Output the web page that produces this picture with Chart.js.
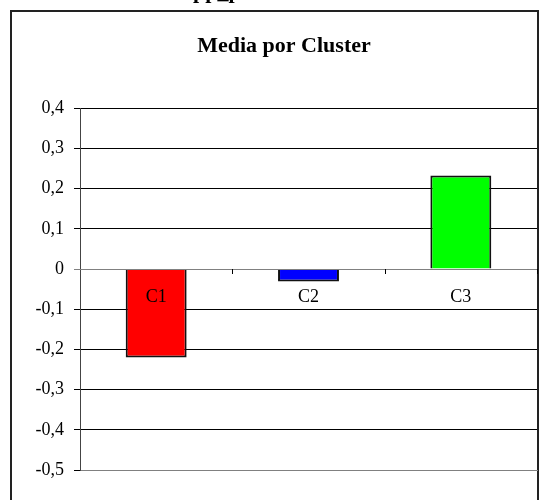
<!DOCTYPE html>
<html>
<head>
<meta charset="utf-8">
<script src="https://cdn.jsdelivr.net/npm/chart.js@4/dist/chart.umd.min.js"></script>
<style>
  html, body { margin: 0; padding: 0; background: #fff; }
  #wrap { width: 543px; height: 500px; position: relative; }
</style>
</head>
<body>
<div id="wrap"><canvas id="c" width="543" height="500"></canvas></div>
<script>
const categories = ['C1', 'C2', 'C3'];
const values = [-0.22, -0.031, 0.233];
const barColors = ['#ff0000', '#0000ff', '#00ff00'];
const chartTitle = 'Media por Cluster';
const cutTitle = 'pp_p';
const yMin = -0.5, yMax = 0.4, yStep = 0.1;

const serif = '"Liberation Serif", "Times New Roman", serif';

const decor = {
  id: 'decor',
  beforeDraw(chart) {
    const ctx = chart.ctx;
    ctx.save();
    ctx.fillStyle = '#fff';
    ctx.fillRect(0, 0, chart.width, chart.height);
    // outer frame
    ctx.strokeStyle = '#222';
    ctx.lineWidth = 2;
    ctx.strokeRect(11, 11, 527, 600);
    // cut-off heading at the very top
    ctx.fillStyle = '#000';
    ctx.font = 'bold 22px ' + serif;
    ctx.textAlign = 'left';
    ctx.textBaseline = 'alphabetic';
    ctx.fillText(cutTitle, 193, -2);
    ctx.restore();
  },
  afterDatasetsDraw(chart) {
    const ctx = chart.ctx;
    const xs = chart.scales.x, ys = chart.scales.y;
    const y0 = ys.getPixelForValue(0);
    const step = xs.getPixelForValue(1) - xs.getPixelForValue(0);
    ctx.save();
    // zero line
    ctx.strokeStyle = '#808080';
    ctx.lineWidth = 1;
    ctx.beginPath();
    ctx.moveTo(chart.chartArea.left, Math.round(y0) + 0.5);
    ctx.lineTo(chart.chartArea.right, Math.round(y0) + 0.5);
    ctx.stroke();
    // category separator ticks on the zero line
    ctx.strokeStyle = '#000';
    for (let i = 0; i < categories.length; i++) {
      const xb = Math.round(xs.getPixelForValue(i) + step / 2) + 0.5;
      ctx.beginPath();
      ctx.moveTo(xb, Math.round(y0));
      ctx.lineTo(xb, Math.round(y0) + 5);
      ctx.stroke();
    }
    // category labels
    ctx.fillStyle = '#000';
    ctx.font = '18px ' + serif;
    ctx.textAlign = 'center';
    ctx.textBaseline = 'middle';
    categories.forEach((c, i) => {
      ctx.fillText(c, xs.getPixelForValue(i), y0 + 28);
    });
    ctx.restore();
  }
};

new Chart(document.getElementById('c'), {
  type: 'bar',
  data: {
    labels: categories,
    datasets: [{
      data: values,
      backgroundColor: barColors,
      borderColor: '#111',
      borderWidth: 2,
      barPercentage: 0.8,
      categoryPercentage: 0.5
    }]
  },
  options: {
    responsive: false,
    animation: false,
    devicePixelRatio: 1,
    layout: { padding: { left: 31, right: 6, top: 0, bottom: 22 } },
    plugins: {
      legend: { display: false },
      tooltip: { enabled: false },
      title: {
        display: true,
        text: chartTitle,
        color: '#000',
        font: { family: serif, size: 22, weight: 'bold', lineHeight: 1.2 },
        padding: { top: 33, bottom: 49 }
      }
    },
    scales: {
      x: {
        grid: { display: false },
        ticks: { display: false },
        border: { display: true, color: '#808080', width: 1 }
      },
      y: {
        min: yMin,
        max: yMax,
        afterFit(scale) { scale.width = 49; },
        ticks: {
          stepSize: yStep,
          color: '#000',
          padding: 10,
          font: { family: serif, size: 18 },
          callback(v) {
            const r = Math.round(v * 10) / 10;
            return r === 0 ? '0' : r.toFixed(1).replace('.', ',');
          }
        },
        grid: {
          color: (c) => (c.tick && Math.abs(c.tick.value) < 1e-9) ? '#808080' : '#000',
          lineWidth: 1,
          tickLength: 6,
          drawTicks: true
        },
        border: { display: true, color: '#444', width: 1 }
      }
    }
  },
  plugins: [decor]
});
</script>
</body>
</html>
